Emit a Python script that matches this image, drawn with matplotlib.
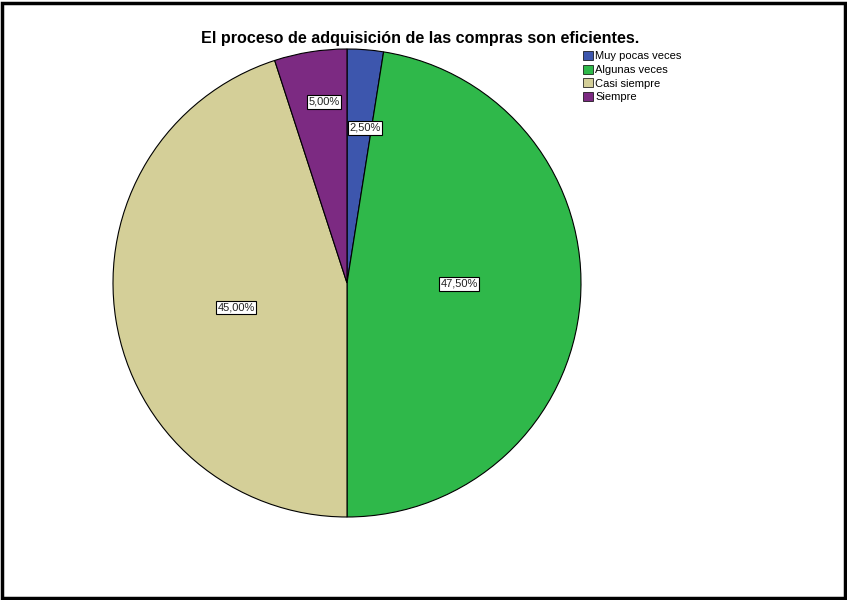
import numpy as np
import matplotlib
matplotlib.use("Agg")
import matplotlib.pyplot as plt
from matplotlib.patches import Rectangle

plt.rcParams['font.family'] = ['Liberation Sans', 'DejaVu Sans']

categorias = ["Muy pocas veces", "Algunas veces", "Casi siempre", "Siempre"]
porcentajes = [2.5, 47.5, 45.0, 5.0]
colores = ["#3d56ad", "#2fb84a", "#d4cf98", "#7c2a82"]
etiquetas = ["2,50%", "47,50%", "45,00%", "5,00%"]
# polar placement of each value label: angle in degrees, distance as fraction of radius
ang_etiqueta = [83.4, -0.5, -167.7, 97.3]
dist_etiqueta = [0.667, 0.479, 0.485, 0.780]

W, H = 847, 600
fig = plt.figure(figsize=(W / 100, H / 100), dpi=100)

# outer frame
fig.patches.append(Rectangle((2 / W, 2 / H), (W - 4) / W, (H - 5) / H,
                             transform=fig.transFigure, fill=False,
                             edgecolor="black", linewidth=2.5))

cx, cy, r = 347, 283, 234
ax = fig.add_axes([(cx - r) / W, (H - cy - r) / H, 2 * r / W, 2 * r / H])
wedges, _ = ax.pie(porcentajes, colors=colores, startangle=90, counterclock=False,
                   radius=1, wedgeprops=dict(edgecolor="black", linewidth=0.8))
ax.set_xlim(-1, 1)
ax.set_ylim(-1, 1)
ax.set_aspect("equal")
ax.axis("off")

for txt, a, d in zip(etiquetas, ang_etiqueta, dist_etiqueta):
    a = np.deg2rad(a)
    ax.text(d * np.cos(a), d * np.sin(a), txt, ha="center", va="center",
            fontsize=8, color="#222222",
            bbox=dict(boxstyle="square,pad=0.15", facecolor="white",
                      edgecolor="black", linewidth=0.8))

fig.text(420 / W, 1 - 38 / H, "El proceso de adquisición de las compras son eficientes.",
         ha="center", va="center", fontsize=11.6, fontweight="bold")

leg = fig.legend(wedges, categorias, loc="upper left",
                 bbox_to_anchor=(583 / W, 1 - 51 / H), frameon=False,
                 fontsize=8, handlelength=0.9, handleheight=0.9,
                 handletextpad=0.2, labelspacing=0.28, borderpad=0,
                 borderaxespad=0)
for h in leg.legend_handles:
    h.set_linewidth(0.5)

fig.savefig("out.png", dpi=100)
